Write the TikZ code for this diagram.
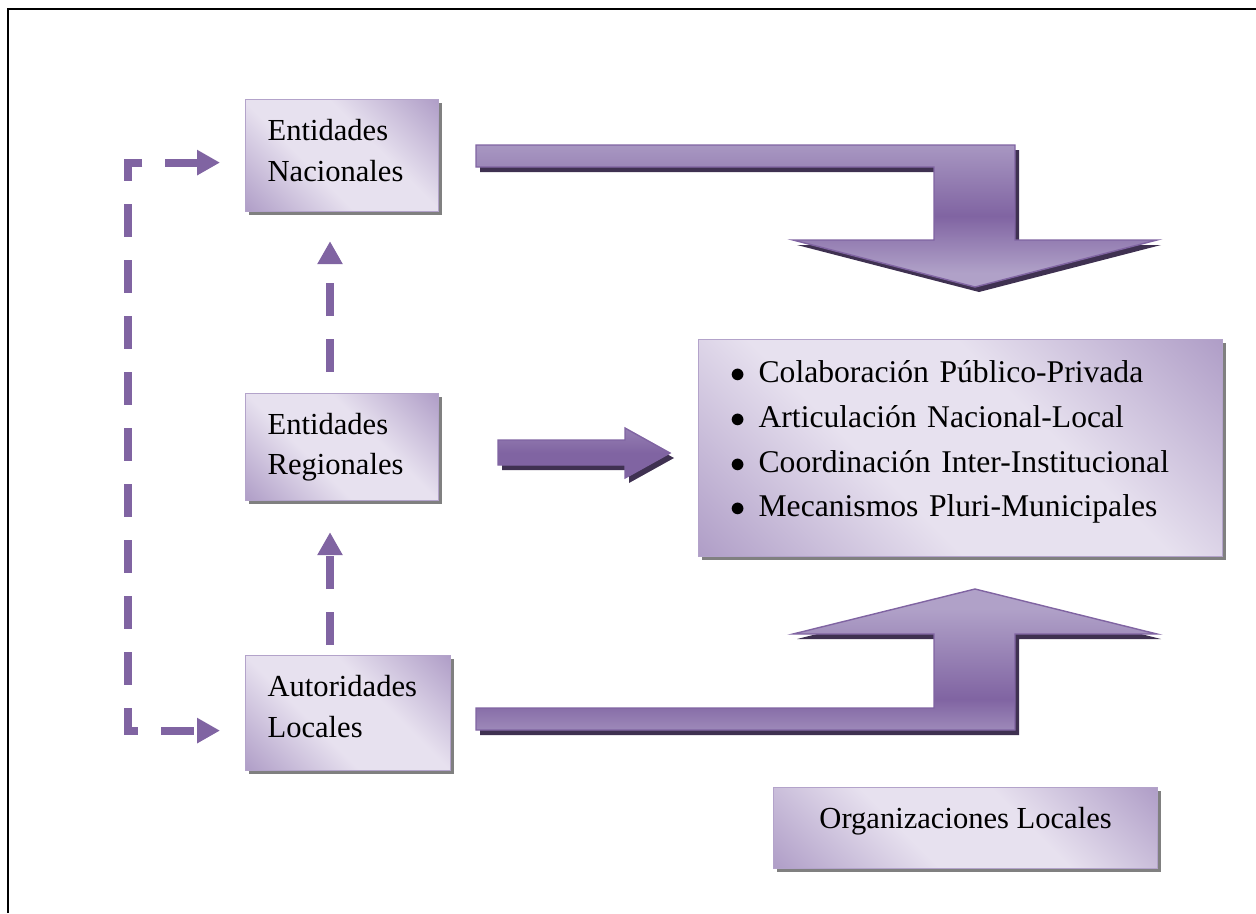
\documentclass[tikz,border=0pt]{standalone}
\usepackage{fontspec}
\setmainfont{Liberation Serif}
\usetikzlibrary{arrows.meta,shadows}

\definecolor{boxlight}{HTML}{E7E1EF}
\definecolor{boxdark}{HTML}{AE9CC6}
\definecolor{boxedge}{HTML}{B3A3CA}
\definecolor{arrowlight}{HTML}{B0A1C8}
\definecolor{arrowdark}{HTML}{8064A2}
\definecolor{arrowshadow}{HTML}{3F3151}
\definecolor{linkcol}{HTML}{8064A2}

\pgfdeclarehorizontalshading{boxshade}{100bp}{color(0bp)=(boxdark); color(14bp)=(boxdark); color(40bp)=(boxlight); color(60bp)=(boxlight); color(86bp)=(boxdark); color(100bp)=(boxdark)}
\pgfdeclareverticalshading{downshade}{100bp}{color(0bp)=(arrowlight); color(30bp)=(arrowlight); color(50bp)=(arrowdark); color(80bp)=(arrowlight); color(100bp)=(arrowlight)}
\pgfdeclareverticalshading{upshade}{100bp}{color(0bp)=(arrowlight); color(18bp)=(arrowlight); color(36bp)=(arrowdark); color(68bp)=(arrowlight); color(100bp)=(arrowlight)}

\newcommand\boxfont{\fontsize{17.4pt}{23.2pt}\selectfont}
\newcommand\listfont{\fontsize{18pt}{25.4pt}\selectfont}
\newcommand\itm[1]{\makebox[0.56cm][l]{$\bullet$}#1}
\newcommand\lift[1]{\rule[-#1]{0pt}{#1}}

% block arrows
\newcommand\pathdown{(476,145) -- (1015,145) -- (1015,240) -- (1157,240) -- (975,287) -- (793,240) -- (934,240) -- (934,167) -- (476,167) -- cycle}
\newcommand\pathup{(476,730) -- (1015,730) -- (1015,634) -- (1157,634) -- (975,589) -- (793,634) -- (934,634) -- (934,708) -- (476,708) -- cycle}
\newcommand\pathright{(498,440) -- (625,440) -- (625,428) -- (670,453) -- (625,478) -- (625,465) -- (498,465) -- cycle}

\tikzset{
  box/.style={draw=boxedge, line width=0.7pt, shading=boxshade, shading angle=45,
    drop shadow={shadow xshift=0.07cm, shadow yshift=-0.07cm, fill=black!50, opacity=1},
    anchor=north west, inner xsep=0.44cm, inner ysep=0pt, align=left, font=\boxfont},
  dashlink/.style={draw=linkcol, line width=0.16cm, dash pattern=on 0.66cm off 0.46cm,
    >={Triangle[length=0.46cm, width=0.48cm]}},
  ashadow/.style={fill=arrowshadow, xshift=0.08cm, yshift=-0.1cm},
  blockarrow/.style={draw=arrowdark, line width=0.8pt, line join=miter},
}

\begin{document}
\begin{tikzpicture}[x=0.02cm, y=-0.02cm]
  \useasboundingbox (0,0) rectangle (1256,913);
  \draw [line width=1.4pt] (8,913) -- (8,9) -- (1256,9);

  % boxes
  \node [box, text width=2.98cm, minimum height=2.24cm] (nac) at (245,99) {Entidades\\Nacionales\lift{0.2cm}};
  \node [box, text width=2.98cm, minimum height=2.14cm] (reg) at (245,393) {Entidades\\Regionales};
  \node [box, text width=3.22cm, minimum height=2.3cm] (loc) at (245,655) {Autoridades\\Locales\lift{0.28cm}};
  \node [box, inner xsep=0.64cm, text width=9.2cm, minimum height=4.34cm, font=\listfont] (acc) at (698,339)
    {\itm{Colaboración Público-Privada}\\\itm{Articulación Nacional-Local}\\\itm{Coordinación Inter-Institucional}\\\itm{Mecanismos Pluri-Municipales}\lift{0.37cm}};
  \node [box, align=center, inner xsep=0pt, minimum width=7.68cm, minimum height=1.62cm] (org) at (773,787) {Organizaciones Locales\lift{0.41cm}};

  % block arrows
  \fill [ashadow] \pathdown;
  \fill [ashadow] \pathup;
  \fill [ashadow] \pathright;
  \draw [blockarrow, shading=downshade] \pathdown;
  \draw [blockarrow, shading=upshade] \pathup;
  \draw [blockarrow, top color=arrowdark!55!arrowlight, bottom color=arrowdark, middle color=arrowdark] \pathright;

  % dashed links
  \coordinate (vx) at (330,0);
  \draw [dashlink, ->, shorten <=0.42cm, shorten >=0.58cm] (vx |- reg.north) -- (vx |- nac.south);
  \draw [dashlink, ->, shorten <=0.2cm, shorten >=0.62cm] (vx |- loc.north) -- (vx |- reg.south);
  \draw [dashlink, <->, shorten <=0.5cm, shorten >=0.5cm] ([yshift=-0.14cm]nac.west) -- ++(-117,0) |- ([yshift=-0.35cm]loc.west);
\end{tikzpicture}
\end{document}
